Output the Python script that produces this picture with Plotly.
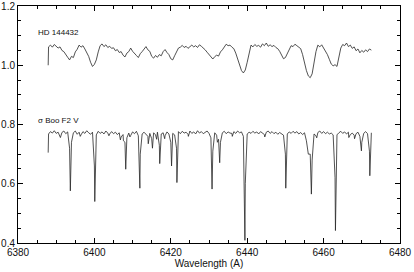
import plotly.graph_objects as go

# ---- HD 144432 (upper spectrum) ----
hd_wl = [6387.9, 6388.0, 6388.5, 6389.0, 6389.5, 6390.0, 6390.5, 6391.0, 6391.5, 6392.0, 6392.5,
         6393.0, 6393.5, 6394.0, 6394.5, 6395.0, 6395.5, 6396.0, 6396.5, 6397.0, 6397.5,
         6398.0, 6398.5, 6399.0, 6399.5, 6400.0, 6400.5, 6401.0, 6401.5, 6402.0, 6402.5,
         6403.0, 6403.5, 6404.0, 6404.5, 6405.0, 6405.5, 6406.0, 6406.5, 6407.0, 6407.5,
         6408.0, 6408.5, 6409.0, 6409.5, 6410.0, 6410.5, 6411.0, 6411.5, 6412.0, 6412.5,
         6413.0, 6413.5, 6414.0, 6414.5, 6415.0, 6415.5, 6416.0, 6416.5, 6417.0, 6417.5,
         6418.0, 6418.5, 6419.0, 6419.5, 6420.0, 6420.5, 6421.0, 6421.5, 6422.0, 6422.5,
         6423.0, 6423.5, 6424.0, 6424.5, 6425.0, 6425.5, 6426.0, 6426.5, 6427.0, 6427.5,
         6428.0, 6428.5, 6429.0, 6429.5, 6430.0, 6430.5, 6431.0, 6431.5, 6432.0, 6432.5,
         6433.0, 6433.5, 6434.0, 6434.5, 6435.0, 6435.5, 6436.0, 6436.5, 6437.0, 6437.5,
         6438.0, 6438.5, 6439.0, 6439.5, 6440.0, 6440.5, 6441.0, 6441.5, 6442.0, 6442.5,
         6443.0, 6443.5, 6444.0, 6444.5, 6445.0, 6445.5, 6446.0, 6446.5, 6447.0, 6447.5,
         6448.0, 6448.5, 6449.0, 6449.5, 6450.0, 6450.5, 6451.0, 6451.5, 6452.0, 6452.5,
         6453.0, 6453.5, 6454.0, 6454.5, 6455.0, 6455.5, 6456.0, 6456.5, 6457.0, 6457.5,
         6458.0, 6458.5, 6459.0, 6459.5, 6460.0, 6460.5, 6461.0, 6461.5, 6462.0, 6462.5,
         6463.0, 6463.5, 6464.0, 6464.5, 6465.0, 6465.5, 6466.0, 6466.5, 6467.0, 6467.5,
         6468.0, 6468.5, 6469.0, 6469.5, 6470.0, 6470.5, 6471.0, 6471.5, 6472.0, 6472.5]
hd_flux = [1.000, 1.062, 1.068, 1.061, 1.070, 1.063, 1.058, 1.062, 1.050, 1.046, 1.034,
           1.027, 1.018, 1.030, 1.026, 1.045, 1.054, 1.068, 1.061, 1.066, 1.055,
           1.044, 1.030, 1.010, 0.996, 1.003, 1.018, 1.045, 1.066, 1.072, 1.063,
           1.069, 1.060, 1.064, 1.057, 1.059, 1.049, 1.053, 1.043, 1.046, 1.034,
           1.028, 1.041, 1.046, 1.058, 1.047, 1.038, 1.033, 1.026, 1.039, 1.046,
           1.055, 1.063, 1.052, 1.047, 1.030, 1.024, 1.033, 1.027, 1.036, 1.032,
           1.046, 1.053, 1.043, 1.036, 1.022, 1.018, 1.032, 1.048, 1.058, 1.061,
           1.067, 1.060, 1.064, 1.057, 1.063, 1.068, 1.062, 1.066, 1.060, 1.069,
           1.064, 1.059, 1.052, 1.044, 1.035, 1.030, 1.021, 1.029, 1.034, 1.031,
           1.045, 1.052, 1.061, 1.071, 1.066, 1.068, 1.061, 1.056, 1.041, 1.020,
           0.998, 0.982, 0.974, 0.984, 1.010, 1.046, 1.068, 1.062, 1.070, 1.064,
           1.067, 1.061, 1.072, 1.066, 1.075, 1.064, 1.069, 1.063, 1.067, 1.060,
           1.056, 1.047, 1.034, 1.022, 1.026, 1.038, 1.052, 1.066, 1.063, 1.071,
           1.066, 1.061, 1.056, 1.036, 1.008, 0.982, 0.964, 0.958, 0.971, 1.008,
           1.046, 1.068, 1.062, 1.069, 1.058, 1.051, 1.036, 1.020, 1.004, 0.998,
           1.002, 0.996, 1.022, 1.058, 1.070, 1.066, 1.075, 1.063, 1.068, 1.057,
           1.062, 1.049, 1.055, 1.042, 1.050, 1.044, 1.052, 1.046, 1.055, 1.051]

# ---- sigma Boo F2 V (lower spectrum): continuum samples ----
boo_wl = [6387.9] + hd_wl[1:]
boo_flux = [0.705, 0.768, 0.776, 0.771, 0.779, 0.770, 0.774, 0.762, 0.773, 0.778, 0.769,
            0.775, 0.720, 0.740, 0.772, 0.778, 0.767, 0.774, 0.765, 0.776, 0.770,
            0.779, 0.772, 0.767, 0.774, 0.660, 0.765, 0.777, 0.770, 0.775, 0.768,
            0.778, 0.771, 0.768, 0.776, 0.769, 0.774, 0.766, 0.772, 0.758, 0.766,
            0.740, 0.755, 0.771, 0.763, 0.775, 0.769, 0.777, 0.762, 0.700, 0.768,
            0.774, 0.766, 0.760, 0.770, 0.752, 0.772, 0.765, 0.774, 0.730, 0.768,
            0.772, 0.762, 0.775, 0.768, 0.740, 0.770, 0.765, 0.720, 0.776, 0.769,
            0.777, 0.771, 0.774, 0.767, 0.778, 0.770, 0.775, 0.768, 0.779, 0.771,
            0.776, 0.769, 0.774, 0.778, 0.770, 0.755, 0.710, 0.772, 0.764, 0.750,
            0.740, 0.772, 0.777, 0.769, 0.775, 0.771, 0.770, 0.776, 0.770, 0.778,
            0.772, 0.775, 0.760, 0.600, 0.768, 0.774, 0.770, 0.777, 0.771, 0.775,
            0.768, 0.776, 0.772, 0.766, 0.774, 0.778, 0.770, 0.776, 0.769, 0.774,
            0.767, 0.773, 0.769, 0.764, 0.700, 0.768, 0.775, 0.770, 0.777, 0.771,
            0.776, 0.768, 0.773, 0.766, 0.772, 0.745, 0.700, 0.700, 0.680, 0.768,
            0.762, 0.773, 0.778, 0.770, 0.776, 0.769, 0.774, 0.768, 0.771, 0.765,
            0.620, 0.765, 0.772, 0.777, 0.770, 0.775, 0.768, 0.774, 0.766, 0.771,
            0.764, 0.769, 0.774, 0.760, 0.740, 0.770, 0.776, 0.769, 0.710, 0.772]

# absorption line cores of sigma Boo
line_wl = [6391.1, 6393.7, 6396.3, 6400.1, 6403.8, 6406.8, 6407.6, 6408.2, 6409.3, 6411.9,
           6414.1, 6415.2, 6416.3, 6417.1, 6418.4, 6420.2, 6421.6, 6424.6, 6430.8, 6432.2,
           6432.8, 6436.1, 6439.4, 6444.6, 6450.1, 6455.8, 6456.8, 6458.2, 6463.1, 6466.6,
           6468.1, 6469.9, 6472.1]
line_flux = [0.756, 0.576, 0.760, 0.540, 0.762, 0.748, 0.745, 0.649, 0.758, 0.585,
             0.735, 0.720, 0.750, 0.668, 0.752, 0.660, 0.604, 0.760, 0.582, 0.740,
             0.671, 0.760, 0.409, 0.758, 0.585, 0.715, 0.565, 0.755, 0.442, 0.756,
             0.752, 0.711, 0.627]

x_ticks = [6380, 6400, 6420, 6440, 6460, 6480]
y_ticks = [0.4, 0.6, 0.8, 1.0, 1.2]

pairs = sorted(zip(boo_wl + line_wl, boo_flux + line_flux))
boo_all_wl = [p[0] for p in pairs]
boo_all_flux = [p[1] for p in pairs]

FONT = "Liberation Sans"
fig = go.Figure()
fig.add_trace(go.Scatter(x=hd_wl, y=hd_flux, mode="lines",
                         line=dict(color="#262626", width=0.8), showlegend=False))
fig.add_trace(go.Scatter(x=boo_all_wl, y=boo_all_flux, mode="lines",
                         line=dict(color="#262626", width=0.8), showlegend=False))

fig.add_annotation(x=6384.8, y=1.11, text="HD 144432", showarrow=False,
                   xanchor="left", yanchor="middle", font=dict(family=FONT, size=8, color="#111"))
fig.add_annotation(x=6384.8, y=0.815, text="σ Boo F2 V", showarrow=False,
                   xanchor="left", yanchor="middle", font=dict(family=FONT, size=8, color="#111"))

axis_common = dict(showline=True, linecolor="black", linewidth=1, mirror="ticks",
                   ticks="inside", ticklen=5, tickcolor="black", tickwidth=1,
                   showgrid=False, zeroline=False, ticklabeloverflow="allow",
                   tickfont=dict(family=FONT, size=10, color="#111"))

fig.update_xaxes(range=[6380, 6480], tickvals=x_ticks, ticktext=[str(v) for v in x_ticks],
                 minor=dict(dtick=5, ticks="inside", ticklen=3, tickcolor="black"),
                 title=dict(text="Wavelength (A)", font=dict(family=FONT, size=10, color="#111"), standoff=0),
                 **axis_common)
fig.update_yaxes(range=[0.4, 1.2], tickvals=y_ticks, ticktext=["%.1f" % v for v in y_ticks],
                 minor=dict(dtick=0.05, ticks="inside", ticklen=3, tickcolor="black"),
                 **axis_common)

fig.update_layout(width=414, height=272, margin=dict(l=18, r=14, t=6, b=29, autoexpand=False),
                  plot_bgcolor="white", paper_bgcolor="white",
                  font=dict(family=FONT, size=10, color="#111"))

fig.write_html("out.html", config={"displayModeBar": False},
               post_script="document.body.style.margin='0';")
